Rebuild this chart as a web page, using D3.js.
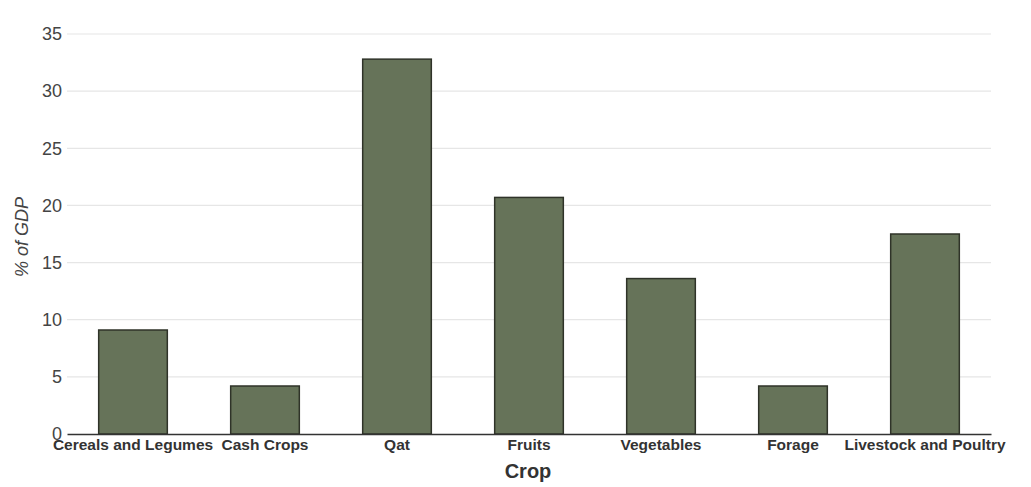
<!DOCTYPE html>
<html>
<head>
<meta charset="utf-8">
<script src="https://cdn.jsdelivr.net/npm/d3@7"></script>
<style>
  html, body { margin: 0; padding: 0; background: #fff; }
  svg { display: block; font-family: "Liberation Sans", Arial, sans-serif; }
</style>
</head>
<body>
<svg id="chart" width="1031" height="487"></svg>
<script>
// Share of agricultural GDP by crop group
const categories = ["Cereals and Legumes", "Cash Crops", "Qat", "Fruits", "Vegetables", "Forage", "Livestock and Poultry"];
const values = [9.1, 4.2, 32.8, 20.7, 13.6, 4.2, 17.5];
const yTicks = [0, 5, 10, 15, 20, 25, 30, 35];

const svg = d3.select("#chart");
const margin = { top: 34, right: 40, bottom: 53, left: 67 };
const width = 1031 - margin.left - margin.right;
const height = 487 - margin.top - margin.bottom;

const g = svg.append("g").attr("transform", `translate(${margin.left},${margin.top})`);

const x = d3.scaleBand().domain(categories).range([0, width]).paddingInner(0.48).paddingOuter(0.24);
const y = d3.scaleLinear().domain([0, 35]).range([height, 0]);

// horizontal gridlines
g.append("g")
  .selectAll("line")
  .data(yTicks.filter(t => t > 0))
  .join("line")
  .attr("x1", 0).attr("x2", width)
  .attr("y1", d => y(d)).attr("y2", d => y(d))
  .attr("stroke", "#e6e6e6").attr("stroke-width", 1.2);

// y axis labels
const yAxis = g.append("g")
  .call(d3.axisLeft(y).tickValues(yTicks).tickSize(0).tickPadding(5));
yAxis.select(".domain").remove();
yAxis.selectAll("text")
  .attr("font-size", 18).attr("fill", "#444")
  .attr("font-family", "'Liberation Sans', Arial, sans-serif");

// bars
g.append("g")
  .selectAll("rect")
  .data(categories)
  .join("rect")
  .attr("x", d => x(d))
  .attr("y", (d, i) => y(values[i]))
  .attr("width", x.bandwidth())
  .attr("height", (d, i) => height - y(values[i]))
  .attr("fill", "#667359")
  .attr("stroke", "#2f3329")
  .attr("stroke-width", 1.5);

// x axis baseline and labels
const xAxis = g.append("g")
  .attr("transform", `translate(0,${height})`)
  .call(d3.axisBottom(x).tickSize(0).tickPadding(5));
xAxis.select(".domain").attr("stroke", "#333").attr("stroke-width", 1.5);
xAxis.selectAll("text")
  .attr("font-size", 15.5).attr("font-weight", "bold").attr("fill", "#333")
  .attr("font-family", "'Liberation Sans', Arial, sans-serif");

// axis titles
svg.append("text")
  .attr("x", 528)
  .attr("y", 478)
  .attr("text-anchor", "middle")
  .attr("font-size", 20).attr("font-weight", "bold").attr("fill", "#333")
  .text("Crop");

svg.append("text")
  .attr("transform", `translate(28,237) rotate(-90)`)
  .attr("text-anchor", "middle")
  .attr("font-size", 18).attr("font-style", "italic").attr("fill", "#444")
  .text("% of GDP");
</script>
</body>
</html>
